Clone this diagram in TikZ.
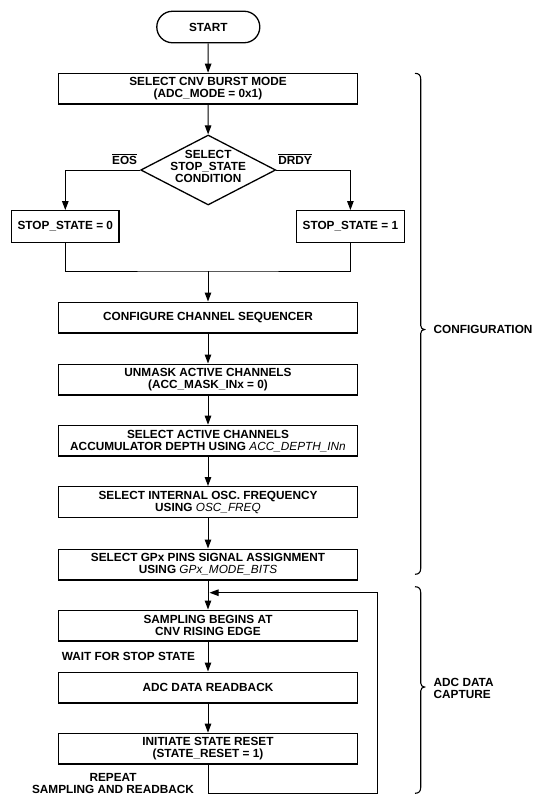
\documentclass[tikz,border=0pt]{standalone}
\usepackage{fontspec}
\setmainfont{Liberation Sans}
\usetikzlibrary{arrows.meta,shapes.geometric}
\begin{document}
\begin{tikzpicture}[x=1pt,y=-1pt,
  font=\fontsize{11.8}{12}\selectfont\bfseries,
  box/.style={draw,line width=1.3pt,minimum width=299.5pt,minimum height=30.7pt,inner sep=0pt,align=center},
  sbox/.style={draw,line width=1.3pt,minimum width=107.5pt,minimum height=31.6pt,inner sep=0pt,align=center},
  term/.style={draw,line width=1.3pt,minimum width=103pt,minimum height=31.5pt,rounded corners=15.7pt,inner sep=0pt},
  decision/.style={draw,diamond,line width=1.3pt,minimum width=135pt,minimum height=70pt,inner sep=0pt},
  txt/.style={inner sep=0pt,align=center},
  arr/.style={line width=1pt,-{Triangle[length=9pt,width=6.5pt]}},
  conn/.style={line width=1pt},
  bracestyle/.style={line width=1.1pt}]
\useasboundingbox (0,0) rectangle (534,796);

\node[term] (start) at (208.3,27) {START};
\node[box] (b1) at (208,88.7) {SELECT CNV BURST MODE\\(ADC\_MODE = 0x1)};
\node[decision] (dia) at (208.2,170) {};
\node[txt] (diat) at (208.2,166.5) {SELECT\\STOP\_STATE\\CONDITION};
\node[sbox] (s0) at (65.3,226.5) {STOP\_STATE = 0};
\node[sbox] (s1) at (350.4,226.5) {STOP\_STATE = 1};
\coordinate (j) at (208,271);
\node[box] (cfg) at (208,317.5) {CONFIGURE CHANNEL SEQUENCER};
\node[box] (unm) at (208,379.5) {UNMASK ACTIVE CHANNELS\\(ACC\_MASK\_INx = 0)};
\node[box] (acc) at (208,440.7) {SELECT ACTIVE CHANNELS\\ACCUMULATOR DEPTH USING {\mdseries\itshape ACC\_DEPTH\_INn}};
\node[box] (osc) at (208,502) {SELECT INTERNAL OSC. FREQUENCY\\USING {\mdseries\itshape OSC\_FREQ}};
\node[box] (gpx) at (208,564.5) {SELECT GPx PINS SIGNAL ASSIGNMENT\\USING {\mdseries\itshape GPx\_MODE\_BITS}};
\node[box] (smp) at (208,625.5) {SAMPLING BEGINS AT\\CNV RISING EDGE};
\node[box] (adc) at (208,687.5) {ADC DATA READBACK};
\node[box] (rst) at (208,748.7) {INITIATE STATE RESET\\(STATE\_RESET = 1)};

% labels
\node[txt] (eos) at (124.6,159) {$\overline{\hbox{\bfseries EOS}}$};
\node[txt] (drdy) at (295,159) {$\overline{\hbox{\bfseries DRDY}}$};
\node[txt] (wait) at (128.4,656.7) {WAIT FOR STOP STATE};
\node[txt] (rep) at (113,783.6) {REPEAT\\SAMPLING AND READBACK};
\node[txt,anchor=west] (cfgl) at (433.5,329.5) {CONFIGURATION};
\node[txt,anchor=west,align=left] (adcl) at (433.5,688.5) {ADC DATA\\CAPTURE};

% connectors
\draw[arr] (start) -- (b1);
\draw[arr] (b1) -- (dia);
\draw[arr] (dia.west) -| (s0.north);
\draw[arr] (dia.east) -| (s1.north);
\draw[conn] (s0.south) |- (j) -| (s1.south);
\draw[arr] (j) -- (cfg.north);
\draw[arr] (cfg) -- (unm);
\draw[arr] (unm) -- (acc);
\draw[arr] (acc) -- (osc);
\draw[arr] (osc) -- (gpx);
\draw[arr] (gpx) -- (smp);
\draw[arr] (smp) -- (adc);
\draw[arr] (adc) -- (rst);
\coordinate (lb) at (208,793.3);
\coordinate (tr) at (377.3,592.7);
\coordinate (tip) at (209.5,592.7);
\draw[arr] (rst.south) -- (lb) -| (tr) -- (tip);

% braces
\draw[bracestyle] (415,73.3) .. controls (419,73.3) and (420.7,75.5) .. (420.7,79) -- (420.7,325.5)
  .. controls (420.7,328) and (422.5,329.5) .. (424.5,329.5)
  .. controls (422.5,329.5) and (420.7,331) .. (420.7,333.5) -- (420.7,568.5)
  .. controls (420.7,572) and (419,574.3) .. (415,574.3);
\draw[bracestyle] (415,586.7) .. controls (419,586.7) and (420.7,588.9) .. (420.7,592.4) -- (420.7,683)
  .. controls (420.7,685.5) and (422.5,687) .. (424.5,687)
  .. controls (422.5,687) and (420.7,688.5) .. (420.7,691) -- (420.7,787.6)
  .. controls (420.7,791.1) and (419,793.3) .. (415,793.3);
\end{tikzpicture}
\end{document}
